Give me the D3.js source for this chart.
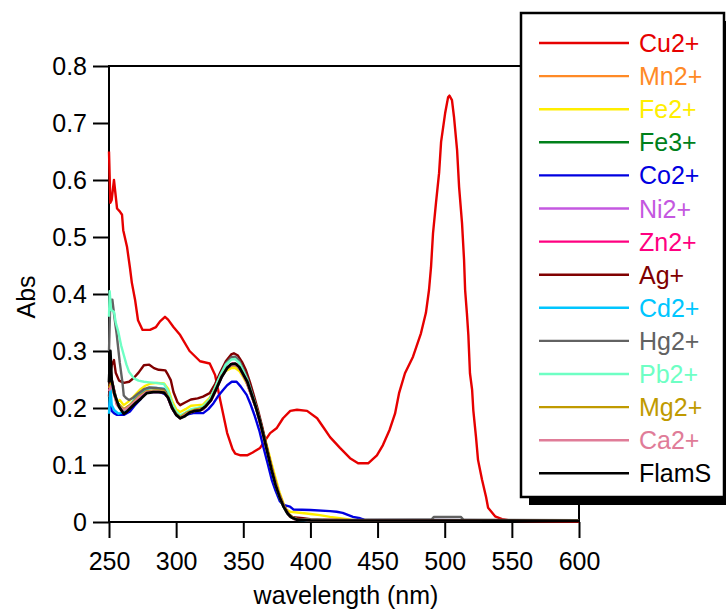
<!DOCTYPE html>
<html>
<head>
<meta charset="utf-8">
<script src="https://cdn.jsdelivr.net/npm/d3@7"></script>
<style>
    body { margin: 0; background: #fff; }
    text { font-family: "Liberation Sans", Arial, sans-serif; }
</style>
</head>
<body>
<script>
// uv-vis spectra of FlamS with metal ions

//series names, in legend order
var seriesNames = ["Cu2+", "Mn2+", "Fe2+", "Fe3+", "Co2+", "Ni2+", "Zn2+", "Ag+", "Cd2+", "Hg2+", "Pb2+", "Mg2+", "Ca2+", "FlamS"];

//tick values
var xTicks = [250, 300, 350, 400, 450, 500, 550, 600];
var yTicks = [0, 0.1, 0.2, 0.3, 0.4, 0.5, 0.6, 0.7, 0.8];

//each spectrum as [wavelength (nm), absorbance]
var cu2 = [[250,0.65],[251,0.56],[252,0.565],[253.7,0.60],[256,0.55],[258,0.545],[259.7,0.539],[260.6,0.512],[263.4,0.483],[265.6,0.446],[267,0.42],[269.4,0.39],[271.6,0.354],[275,0.337],[280.5,0.337],[285,0.342],[288,0.352],[291.7,0.36],[294,0.355],[298,0.342],[303,0.328],[310,0.30],[317.8,0.282],[325,0.278],[329,0.258],[333,0.212],[338,0.156],[342,0.128],[344,0.12],[348,0.117],[352.8,0.117],[357,0.122],[362.5,0.13],[370,0.156],[375,0.165],[379.6,0.182],[385,0.195],[390,0.197],[397.5,0.195],[405,0.182],[410,0.165],[414.6,0.149],[422,0.13],[429.5,0.112],[435.5,0.103],[443,0.103],[449.5,0.117],[454,0.135],[459,0.162],[463,0.19],[466,0.226],[470.4,0.261],[476.4,0.29],[482.3,0.331],[486,0.367],[488.3,0.407],[489.8,0.447],[491.3,0.507],[493.5,0.56],[495.8,0.612],[497.3,0.667],[500.3,0.717],[502.5,0.745],[503.5,0.748],[505.4,0.74],[506.9,0.711],[509.2,0.653],[510.7,0.588],[512.9,0.524],[514.4,0.46],[515.2,0.407],[516.5,0.367],[517.6,0.328],[518.8,0.261],[520.4,0.232],[521.3,0.196],[523.3,0.149],[524.8,0.109],[527.8,0.074],[530.8,0.044],[532.3,0.025],[537.5,0.01],[542.7,0.005],[551,0.002],[600,0.001]];
var mn2 = [[250,0.23],[252,0.24],[256,0.205],[261,0.195],[266,0.204],[272,0.218],[278,0.228],[285,0.229],[291,0.228],[294,0.218],[297,0.2],[300,0.188],[303,0.182],[308,0.19],[314,0.195],[320,0.198],[326,0.214],[330,0.234],[334,0.256],[338,0.27],[342,0.276],[345,0.275],[348,0.266],[352,0.248],[356,0.222],[360,0.196],[364,0.16],[368,0.122],[372,0.085],[376,0.052],[380,0.028],[384,0.012],[388,0.005],[400,0.003],[600,0.002]];
var fe2 = [[250,0.22],[252,0.235],[254,0.225],[256,0.21],[258,0.214],[261,0.205],[265,0.212],[269,0.222],[273,0.232],[277,0.239],[281,0.243],[286,0.244],[291,0.243],[294,0.234],[297,0.212],[300,0.198],[303,0.193],[307,0.198],[311,0.204],[316,0.205],[320,0.206],[325,0.218],[329,0.236],[333,0.254],[337,0.265],[341,0.27],[344,0.27],[347,0.265],[350,0.254],[353,0.241],[356,0.223],[359,0.204],[362,0.182],[365,0.157],[368,0.13],[371,0.103],[374,0.077],[377,0.052],[380,0.032],[382,0.022],[385,0.018],[397,0.015],[400,0.014],[407,0.012],[414.6,0.009],[422,0.0065],[430,0.004],[600,0.003]];
var fe3 = [[250,0.24],[252,0.25],[256,0.21],[261,0.196],[266,0.205],[272,0.219],[278,0.229],[285,0.23],[291,0.229],[294,0.219],[297,0.2],[300,0.189],[303,0.183],[308,0.191],[314,0.196],[320,0.199],[326,0.215],[330,0.235],[334,0.257],[338,0.271],[342,0.277],[345,0.276],[348,0.267],[352,0.249],[356,0.223],[360,0.197],[364,0.161],[368,0.123],[372,0.086],[376,0.053],[380,0.029],[384,0.013],[388,0.006],[400,0.003],[600,0.002]];
var co2 = [[250,0.2],[251,0.215],[252,0.195],[253.7,0.191],[256,0.188],[259.4,0.188],[261,0.188],[265.6,0.194],[269,0.204],[273,0.214],[276,0.224],[279.3,0.23],[284,0.229],[288,0.228],[293,0.223],[295.5,0.21],[297.9,0.196],[302.9,0.185],[307,0.188],[312.8,0.191],[320.2,0.191],[324,0.198],[327.7,0.208],[331,0.22],[335.1,0.232],[338,0.24],[341.4,0.246],[345,0.246],[348,0.238],[352.5,0.223],[355.5,0.206],[358.7,0.185],[362,0.16],[364.9,0.132],[368,0.104],[371.2,0.074],[374,0.055],[377.3,0.036],[380,0.03],[384.8,0.027],[387.3,0.022],[400,0.021],[414.6,0.019],[419.5,0.018],[424,0.016],[431.7,0.009],[437,0.0065],[440,0.004],[600,0.003]];
var ni2 = [[250,0.23],[252,0.245],[256,0.206],[261,0.196],[266,0.204],[272,0.218],[278,0.227],[285,0.228],[291,0.227],[294,0.217],[297,0.199],[300,0.188],[303,0.182],[308,0.19],[314,0.195],[320,0.198],[326,0.213],[330,0.233],[334,0.255],[338,0.27],[342,0.277],[345,0.276],[348,0.267],[352,0.249],[356,0.223],[360,0.196],[364,0.16],[368,0.122],[372,0.085],[376,0.052],[380,0.028],[384,0.012],[388,0.005],[400,0.003],[600,0.002]];
var zn2 = [[250,0.235],[252,0.25],[256,0.207],[261,0.197],[266,0.205],[272,0.219],[278,0.228],[285,0.229],[291,0.228],[294,0.218],[297,0.2],[300,0.189],[303,0.183],[308,0.19],[314,0.195],[320,0.198],[326,0.214],[330,0.234],[334,0.256],[338,0.271],[342,0.278],[345,0.277],[348,0.268],[352,0.25],[356,0.224],[360,0.197],[364,0.161],[368,0.123],[372,0.086],[376,0.053],[380,0.029],[384,0.013],[388,0.006],[400,0.003],[600,0.002]];
var ag = [[250,0.22],[251,0.26],[252,0.275],[253.7,0.284],[255,0.262],[257.5,0.248],[261,0.244],[265,0.246],[268.6,0.253],[272,0.262],[276,0.275],[280,0.276],[283.5,0.27],[287,0.267],[292,0.266],[294,0.258],[296,0.249],[298,0.228],[301,0.21],[303,0.205],[307,0.21],[311,0.215],[316,0.217],[320,0.22],[325,0.226],[329,0.242],[333,0.263],[337,0.282],[341,0.294],[343,0.296],[346,0.292],[349,0.281],[352,0.266],[355,0.245],[358,0.221],[361,0.196],[364,0.168],[367,0.137],[370,0.106],[373,0.077],[376,0.052],[379,0.032],[382,0.018],[384.8,0.009],[394.5,0.0065],[400,0.005],[410,0.004],[430,0.003],[600,0.003]];
var cd2 = [[250,0.19],[251,0.24],[252,0.205],[254,0.196],[257,0.19],[260,0.192],[264,0.2],[268,0.212],[272,0.223],[276,0.231],[280,0.235],[285,0.235],[291,0.234],[294,0.223],[297,0.204],[300,0.19],[303,0.183],[307,0.187],[311,0.194],[316,0.197],[320,0.199],[325,0.213],[329,0.234],[333,0.258],[337,0.276],[341,0.286],[344,0.287],[347,0.28],[350,0.266],[353,0.25],[356,0.228],[359,0.206],[362,0.181],[365,0.153],[368,0.123],[371,0.093],[374,0.066],[377,0.044],[380,0.027],[383,0.015],[386,0.008],[390,0.004],[400,0.003],[600,0.002]];
var hg2 = [[250,0.3],[251,0.39],[252.5,0.39],[254,0.36],[255.7,0.33],[258,0.28],[260,0.245],[261,0.222],[263,0.217],[264.9,0.214],[268,0.218],[272,0.226],[276,0.233],[280,0.236],[285,0.235],[291,0.233],[294,0.223],[297,0.204],[300,0.191],[303,0.185],[307,0.189],[311,0.196],[316,0.198],[320,0.201],[325,0.215],[329,0.235],[333,0.258],[337,0.278],[341,0.289],[344,0.29],[347,0.283],[350,0.268],[353,0.252],[356,0.229],[359,0.207],[362,0.182],[365,0.154],[368,0.124],[371,0.094],[374,0.066],[377,0.045],[380,0.028],[384,0.012],[388,0.005],[400,0.0035],[429,0.0035],[480,0.004],[490,0.004],[492,0.009],[512,0.009],[514,0.004],[600,0.003]];
var pb2 = [[250,0.36],[250.5,0.405],[251.5,0.372],[253.7,0.369],[255,0.35],[257,0.333],[259,0.31],[261,0.293],[263,0.276],[265,0.263],[268.6,0.252],[272,0.248],[276,0.246],[280,0.245],[285,0.244],[291,0.242],[294,0.23],[297,0.208],[300,0.194],[303,0.187],[307,0.192],[311,0.198],[316,0.2],[320,0.203],[325,0.215],[329,0.236],[333,0.258],[337,0.276],[341,0.285],[344,0.286],[347,0.279],[350,0.265],[353,0.249],[356,0.227],[359,0.205],[362,0.18],[365,0.152],[368,0.122],[371,0.092],[374,0.065],[377,0.044],[380,0.027],[383,0.015],[386,0.008],[390,0.005],[400,0.0035],[409,0.0035],[412,0.002],[600,0.002]];
var mg2 = [[250,0.235],[252,0.245],[256,0.208],[261,0.198],[266,0.206],[272,0.22],[278,0.23],[285,0.231],[291,0.23],[294,0.22],[297,0.201],[300,0.19],[303,0.184],[308,0.192],[314,0.197],[320,0.2],[326,0.215],[330,0.235],[334,0.256],[338,0.27],[342,0.275],[345,0.274],[348,0.266],[352,0.249],[356,0.224],[360,0.198],[364,0.162],[368,0.125],[372,0.088],[376,0.055],[380,0.03],[384,0.014],[388,0.006],[400,0.003],[600,0.002]];
var ca2 = [[250,0.23],[252,0.24],[256,0.206],[261,0.196],[266,0.204],[272,0.218],[278,0.228],[285,0.229],[291,0.228],[294,0.218],[297,0.2],[300,0.188],[303,0.182],[308,0.19],[314,0.195],[320,0.198],[326,0.214],[330,0.234],[334,0.256],[338,0.27],[342,0.276],[345,0.275],[348,0.266],[352,0.248],[356,0.222],[360,0.196],[364,0.16],[368,0.122],[372,0.085],[376,0.052],[380,0.028],[384,0.012],[388,0.005],[400,0.003],[600,0.002]];
var flams = [[250,0.245],[251,0.30],[252,0.249],[254,0.225],[257.5,0.202],[261,0.19],[263,0.193],[266,0.2],[270,0.209],[274,0.217],[278,0.226],[283,0.228],[287,0.228],[291,0.227],[294,0.218],[297,0.2],[300,0.188],[303,0.182],[306,0.185],[310,0.192],[314,0.195],[318,0.196],[322,0.203],[326,0.214],[330,0.234],[334,0.255],[338,0.27],[341,0.277],[344,0.278],[347,0.272],[350,0.259],[353,0.246],[356,0.225],[359,0.204],[362,0.18],[365,0.152],[368,0.122],[371,0.092],[374,0.065],[377,0.044],[380,0.027],[383,0.015],[386,0.008],[390,0.004],[400,0.003],[600,0.002]];

var seriesData = [cu2, mn2, fe2, fe3, co2, ni2, zn2, ag, cd2, hg2, pb2, mg2, ca2, flams];

//line colours, same order as the names
var seriesColors = ["#e60000", "#ff8a26", "#ffee00", "#00801a", "#0000e0", "#c458e0", "#ff0080", "#800000", "#00c6ff", "#626262", "#6effc4", "#c09a00", "#e07c98", "#000000"];

window.onload = function() {

    //svg dimension variables
    var w = 726, h = 610;

    //plot frame edges
    var left = 109, right = 579, top = 66, bottom = 522;

    var svg = d3.select("body")
        .append("svg")
        .attr("width", w)
        .attr("height", h);

    //scales
    var x = d3.scaleLinear()
        .domain([250, 600])
        .range([left, right]);

    var y = d3.scaleLinear()
        .domain([0, 0.8])
        .range([bottom, top]);

    //frame around the plot
    svg.append("rect")
        .attr("x", left)
        .attr("y", top)
        .attr("width", right - left)
        .attr("height", bottom - top)
        .style("fill", "none")
        .style("stroke", "#000")
        .style("stroke-width", 2);

    //x axis, ticks pointing out
    var xAxis = svg.append("g")
        .attr("transform", "translate(0," + bottom + ")")
        .call(d3.axisBottom(x).tickValues(xTicks).tickSize(16).tickPadding(14).tickFormat(d3.format("d")));

    //y axis
    var yAxis = svg.append("g")
        .attr("transform", "translate(" + left + ",0)")
        .call(d3.axisLeft(y).tickValues(yTicks).tickSize(16).tickPadding(6)
            .tickFormat(function(d) { return d === 0 ? "0" : d3.format(".1f")(d); }));

    [xAxis, yAxis].forEach(function(a) {
        a.select(".domain").remove();
        a.selectAll(".tick line").style("stroke", "#000").style("stroke-width", 2);
        a.selectAll(".tick text")
            .style("font-size", "25px")
            .style("fill", "#000")
            .style("font-family", "'Liberation Sans', Arial, sans-serif");
    });

    //spectra
    var line = d3.line()
        .x(function(d) { return x(d[0]); })
        .y(function(d) { return y(d[1]); });

    svg.selectAll(".spectrum")
        .data(seriesData)
        .enter()
        .append("path")
        .attr("class", "spectrum")
        .attr("d", line)
        .style("fill", "none")
        .style("stroke", function(d, i) { return seriesColors[i]; })
        .style("stroke-width", function(d, i) { return i === seriesData.length - 1 ? 2.8 : 2.4; })
        .style("stroke-linejoin", "round");

    //axis titles
    svg.append("text")
        .attr("x", 346)
        .attr("y", 604)
        .attr("text-anchor", "middle")
        .style("font-size", "25px")
        .text("wavelength (nm)");

    svg.append("text")
        .attr("transform", "translate(35,297) rotate(-90)")
        .attr("text-anchor", "middle")
        .style("font-size", "25px")
        .text("Abs");

    //legend box with drop shadow
    var lx = 521, ly = 13, lw = 203, lh = 484;

    svg.append("rect")
        .attr("x", lx + 8)
        .attr("y", ly + 8)
        .attr("width", lw)
        .attr("height", lh)
        .style("fill", "#000");

    svg.append("rect")
        .attr("x", lx)
        .attr("y", ly)
        .attr("width", lw)
        .attr("height", lh)
        .style("fill", "#fff")
        .style("stroke", "#000")
        .style("stroke-width", 2.5);

    var rows = svg.selectAll(".legendRow")
        .data(seriesNames)
        .enter()
        .append("g")
        .attr("class", "legendRow")
        .attr("transform", function(d, i) { return "translate(0," + (43 + i * 33.1) + ")"; });

    rows.append("line")
        .attr("x1", 539)
        .attr("x2", 629)
        .style("stroke", function(d, i) { return seriesColors[i]; })
        .style("stroke-width", 2.4);

    rows.append("text")
        .attr("x", 639)
        .attr("dy", "0.36em")
        .style("font-size", "25px")
        .style("fill", function(d, i) { return seriesColors[i]; })
        .text(function(d) { return d; });
};
</script>
</body>
</html>
